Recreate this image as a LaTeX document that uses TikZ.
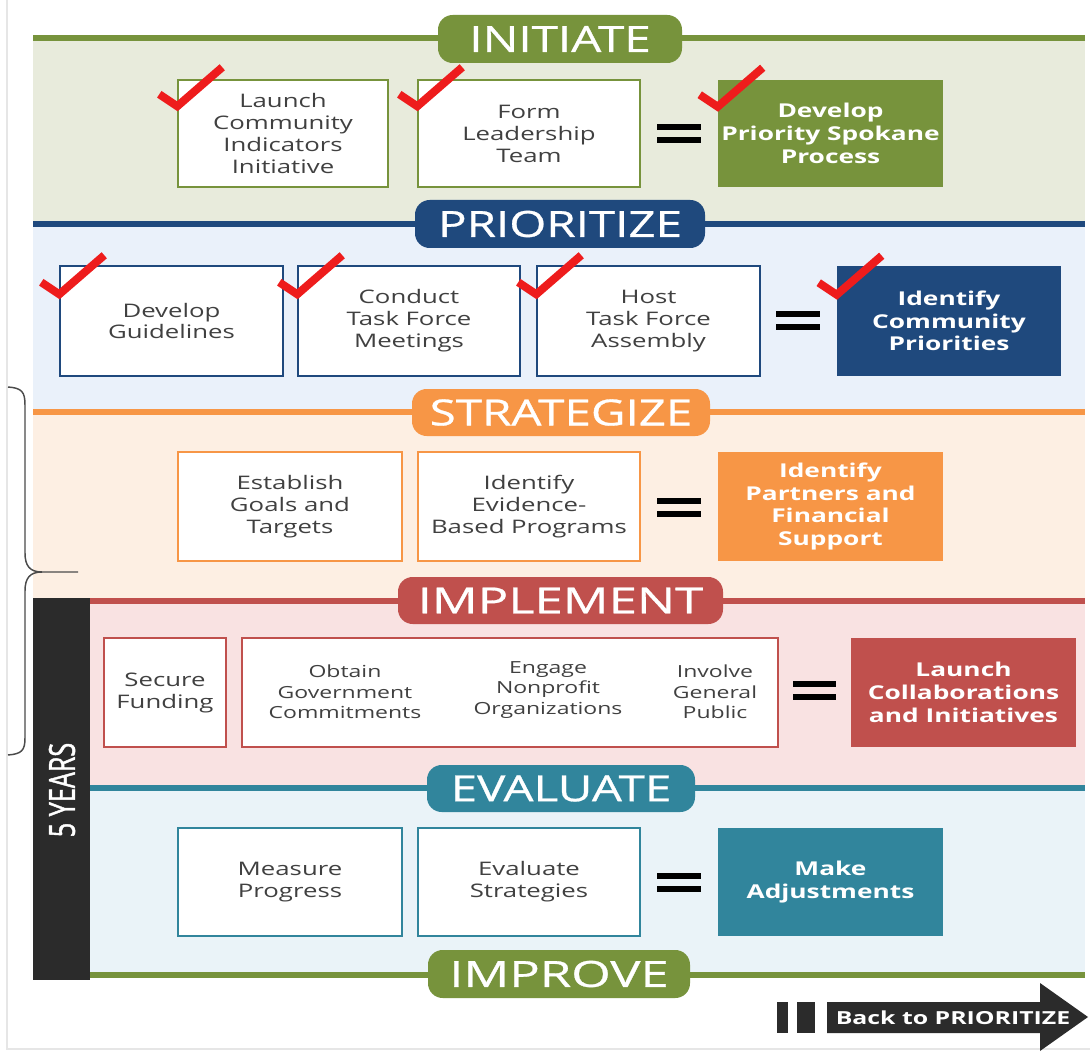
\documentclass[tikz,border=0pt]{standalone}
\usepackage{fontspec}
\setmainfont[FakeStretch=1.38]{Open Sans}
\newfontfamily\headfont[FakeStretch=1.32,FakeBold=0.8]{Open Sans}
\newfontfamily\headwide[FakeStretch=1.41,FakeBold=0.8]{Open Sans}
\newfontfamily\yearsfont[FakeStretch=0.7,FakeBold=1.2]{Open Sans}
\usetikzlibrary{fit}

\definecolor{cInit}{HTML}{77933C}
\definecolor{cPrio}{HTML}{1F497D}
\definecolor{cStrat}{HTML}{F79646}
\definecolor{cImpl}{HTML}{C0504D}
\definecolor{cEval}{HTML}{31859C}
\definecolor{bInit}{HTML}{E8EBDC}
\definecolor{bPrio}{HTML}{EAF1FA}
\definecolor{bStrat}{HTML}{FDEFE3}
\definecolor{bImpl}{HTML}{F9E2E2}
\definecolor{bEval}{HTML}{EAF3F8}
\definecolor{txt}{HTML}{404040}
\definecolor{darkbar}{HTML}{2B2B2B}
\definecolor{tickred}{HTML}{EE1C1C}
\definecolor{frame}{HTML}{E6E6E6}

\tikzset{
  sz/.style 2 args={minimum width=#1*0.75pt, minimum height=#2*0.75pt},
  taskbox/.style={draw=#1, line width=1.1pt, fill=white, inner sep=0pt,
    align=center, text=txt, font=\fontsize{14}{16.5}\selectfont},
  goalbox/.style={fill=#1, inner sep=0pt, align=center, text=white,
    font=\fontsize{14.3}{17}\selectfont\bfseries},
  plaintext/.style={inner sep=0pt, align=center, text=txt,
    font=\fontsize{12.5}{15.5}\selectfont},
  pill/.style={fill=#1, rounded corners=11pt, inner sep=0pt, text=white,
    font=\headfont\fontsize{27}{27}\selectfont},
  bandline/.style={draw=#1, line width=4.5pt},
  eqbar/.style={draw=black, line width=3.8pt},
  redcheck/.pic={\draw[draw=tickred, line width=6pt, line join=miter]
      (-18,-12) -- (0,0) -- (45,-39);},
  bracepath/.style={draw=darkbar!85, line width=1.1pt}
}

\begin{document}
\begin{tikzpicture}[x=0.75pt, y=-0.75pt]
\useasboundingbox (0,0) rectangle (1090,1052);
\fill[white] (0,0) rectangle (1090,1052);
\draw[frame, line width=0.8pt] (7,0) -- (7,1049) -- (1090,1049);

% section bands
\fill[bInit]  (33,38)  rectangle (1085,224);
\fill[bPrio]  (33,224) rectangle (1085,412);
\fill[bStrat] (33,412) rectangle (1085,601);
\fill[bImpl]  (33,601) rectangle (1085,788);
\fill[bEval]  (33,788) rectangle (1085,975);

% band rules
\draw[bandline=cInit]  (33,38)  -- (1085,38);
\draw[bandline=cPrio]  (33,224) -- (1085,224);
\draw[bandline=cStrat] (33,412) -- (1085,412);
\draw[bandline=cImpl]  (90,601) -- (1085,601);
\draw[bandline=cEval]  (90,788) -- (1085,788);
\draw[bandline=cInit]  (90,975) -- (1085,975);

% five-year bar
\fill[darkbar] (33,598) rectangle (90,980);
\node[text=white, rotate=90, inner sep=0pt, font=\yearsfont\fontsize{27}{27}\selectfont]
  (years) at (62,790) {5 YEARS};

% stage titles
\node[pill=cInit,  sz={244}{48}] (initiate)   at (560,39)    {INITIATE};
\node[pill=cPrio,  sz={290}{48}] (prioritize) at (560,224)   {PRIORITIZE};
\node[pill=cStrat, sz={298}{47}] (strategize) at (561,412.5) {STRATEGIZE};
\node[pill=cImpl,  sz={325}{47}] (implement)  at (560.5,600.5) {\headwide IMPLEMENT};
\node[pill=cEval,  sz={268}{47}] (evaluate)   at (561,788.5) {EVALUATE};
\node[pill=cInit,  sz={262}{48}] (improve)    at (559,974)   {\headwide IMPROVE};

% initiate
\node[taskbox=cInit, sz={210}{107}] (launch)  at (283,133.5)   {Launch\\Community\\Indicators\\Initiative};
\node[taskbox=cInit, sz={222}{107}] (form)    at (529,133.5)   {Form\\Leadership\\Team};
\node[goalbox=cInit, sz={225}{107}] (develop) at (830.5,133.5) {Develop\\Priority Spokane\\Process};
\draw[eqbar] (657,127) -- (701,127) (657,140) -- (701,140);

% prioritize
\node[taskbox=cPrio, sz={223}{110}] (guide)      at (171.5,321) {Develop\\Guidelines};
\node[taskbox=cPrio, sz={222}{110}] (conduct)    at (409,321)   {Conduct\\Task Force\\Meetings};
\node[taskbox=cPrio, sz={223}{110}] (host)       at (648.5,321) {Host\\Task Force\\Assembly};
\node[goalbox=cPrio, sz={224}{110}] (priorities) at (949,321)   {Identify\\Community\\Priorities};
\draw[eqbar] (776,314) -- (820,314) (776,327) -- (820,327);

% strategize
\node[taskbox=cStrat, sz={224}{109}] (goals)    at (290,506.5)   {Establish\\Goals and\\Targets};
\node[taskbox=cStrat, sz={222}{109}] (evidence) at (529,506.5)   {Identify\\Evidence-\\Based Programs};
\node[goalbox=cStrat, sz={225}{109}] (partners) at (830.5,506.5) {Identify\\Partners and\\Financial\\Support};
\draw[eqbar] (657,501) -- (701,501) (657,514) -- (701,514);

% implement
\node[taskbox=cImpl, sz={122}{109}] (funding) at (165,692.5) {Secure\\Funding};
\node[taskbox=cImpl, sz={536}{109}] (engage)  at (510,692.5) {};
\node[plaintext] (obtain)  at (345,692) {Obtain\\Government\\Commitments};
\node[plaintext] (nonprof) at (548,690) {Engage\\Nonprofit\\Organizations};
\node[plaintext] (involve) at (715,692) {Involve\\General\\Public};
\node[goalbox=cImpl, sz={225}{109}] (collab) at (963.5,692.5) {Launch\\Collaborations\\and Initiatives};
\draw[eqbar] (793,684) -- (836,684) (793,697) -- (836,697);

% evaluate
\node[taskbox=cEval, sz={224}{108}] (measure)    at (290,882)   {Measure\\Progress};
\node[taskbox=cEval, sz={222}{108}] (strategies) at (529,882)   {Evaluate\\Strategies};
\node[goalbox=cEval, sz={225}{108}] (adjust)     at (830.5,882) {Make\\Adjustments};
\draw[eqbar] (657,876) -- (701,876) (657,889) -- (701,889);

% completed steps
\path (launch.north west)     ++(0,27) pic {redcheck};
\path (form.north west)       ++(0,27) pic {redcheck};
\path (develop.north west)    ++(0,27) pic {redcheck};
\path (guide.north west)      ++(0,29) pic {redcheck};
\path (conduct.north west)    ++(0,29) pic {redcheck};
\path (host.north west)       ++(0,29) pic {redcheck};
\path (priorities.north west) ++(0,29) pic {redcheck};

% brace spanning the first years
\coordinate (bracetip) at (78,572);
\draw[bracepath] (8,387) .. controls (22,388) and (25,392) .. (25,405)
  -- (25,553) .. controls (25,566) and (30,572) .. (42,572) -- (bracetip);
\draw[bracepath] (42,572) .. controls (30,572) and (25,578) .. (25,591)
  -- (25,738) .. controls (25,750) and (22,754) .. (8,755);

% return arrow
\fill[darkbar] (777,1002) rectangle (788,1033);
\fill[darkbar] (797,1002) rectangle (815,1033);
\fill[darkbar] (827,1002) -- (1040,1002) -- (1040,983) -- (1088,1017)
  -- (1040,1051) -- (1040,1033) -- (827,1033) -- cycle;
\node[text=white, inner sep=0pt, font=\fontsize{13.5}{14}\selectfont\bfseries]
  (back) at (953,1018) {Back to PRIORITIZE};
\end{tikzpicture}
\end{document}
